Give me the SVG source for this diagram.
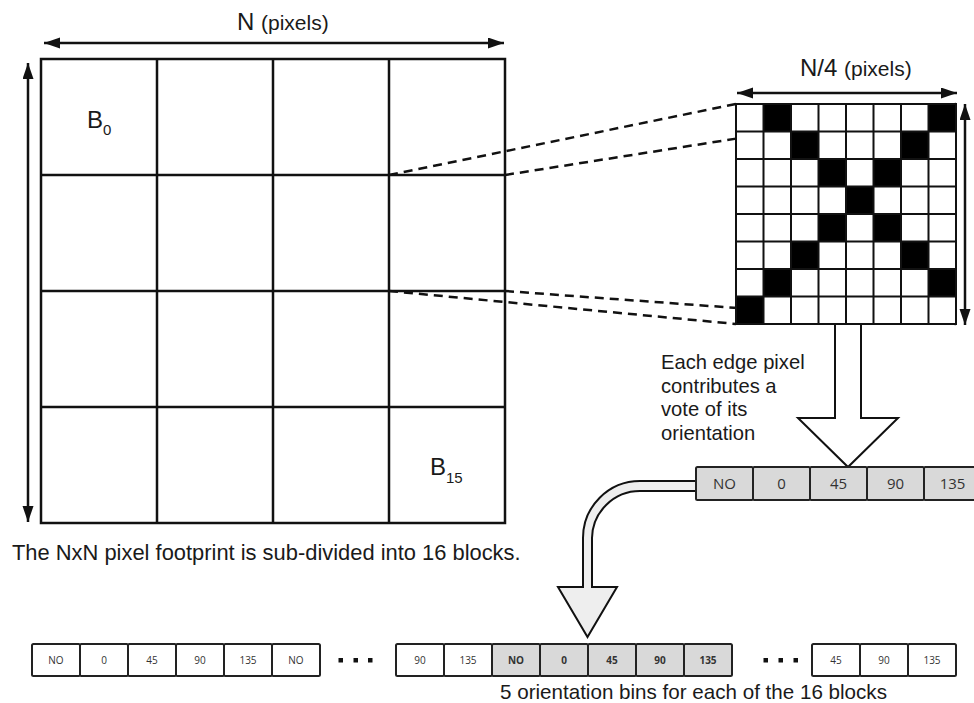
<svg xmlns="http://www.w3.org/2000/svg" width="974" height="703" viewBox="0 0 974 703">
<style>
.lbl{font-family:"Liberation Sans",Arial,sans-serif;fill:#1a1a1a}
.bin{font-family:"Open Sans","Noto Sans",sans-serif;fill:#333;text-anchor:middle}
.grid{fill:none;stroke:#111;stroke-width:2.5}
.dash{fill:none;stroke:#111;stroke-width:2.5;stroke-dasharray:9 6}
.dim{stroke:#111;stroke-width:2.5;fill:none;marker-start:url(#ah);marker-end:url(#ah)}
.box{stroke:#222;stroke-width:2}
.w{fill:#fff}
.g{fill:#d9d9d9}
</style>
<defs>
<marker id="ah" markerUnits="userSpaceOnUse" markerWidth="17" markerHeight="12" refX="16" refY="5.5" orient="auto-start-reverse" viewBox="0 0 17 12">
<path d="M0,0 L16,5.5 L0,11 z" fill="#111"/>
</marker>
</defs>
<rect width="974" height="703" fill="#fff"/>

<g id="connectors">
<line class="dim" x1="44" y1="43" x2="504" y2="43"/>
<line class="dim" x1="28" y1="63" x2="28" y2="522"/>
<line class="dim" x1="737" y1="93" x2="957" y2="93"/>
<line class="dim" x1="965" y1="104" x2="965" y2="325"/>
<line class="dash" x1="389" y1="175" x2="736" y2="104"/>
<line class="dash" x1="505" y1="175" x2="956" y2="104"/>
<line class="dash" x1="389" y1="291" x2="736" y2="324"/>
<line class="dash" x1="505" y1="291" x2="956" y2="324"/>
<path id="vote-arrow" d="M835,324 L835,418 L798,418 L848,467 L898,418 L861,418 L861,324 Z" fill="#fff" stroke="#111" stroke-width="2" stroke-linejoin="miter"/>
<path id="curved-arrow" d="M697,481 L640,481 A57,57 0 0 0 583,538 L583,587 L558,587 L587.5,637 L617,587 L592,587 L592,538 A48,48 0 0 1 640,491 L697,491 Z" fill="#eeeeee" stroke="#111" stroke-width="2" stroke-linejoin="miter"/>
</g>

<g id="labels-dim">
<text class="lbl" x="237" y="30" font-size="24">N <tspan font-size="21">(pixels)</tspan></text>
<text class="lbl" x="800" y="76" font-size="24">N/4 <tspan font-size="21">(pixels)</tspan></text>
</g>

<g id="footprint">
<rect class="grid" x="41" y="59" width="464" height="464" fill="none"/>
<path class="grid" d="M157,59V523 M273,59V523 M389,59V523 M41,175H505 M41,291H505 M41,407H505"/>
<text class="lbl" x="87" y="128" font-size="24">B<tspan font-size="15" dy="7">0</tspan></text>
<text class="lbl" x="430" y="475" font-size="24">B<tspan font-size="15" dy="8">15</tspan></text>
<text class="lbl" x="12" y="560" font-size="21.9">The NxN pixel footprint is sub-divided into 16 blocks.</text>
</g>

<g id="block-pixels">
<rect x="736" y="104" width="220" height="220" fill="#fff"/>
<g fill="#000">
<rect x="763.5" y="104" width="27.5" height="27.5"/>
<rect x="928.5" y="104" width="27.5" height="27.5"/>
<rect x="791" y="131.5" width="27.5" height="27.5"/>
<rect x="901" y="131.5" width="27.5" height="27.5"/>
<rect x="818.5" y="159" width="27.5" height="27.5"/>
<rect x="873.5" y="159" width="27.5" height="27.5"/>
<rect x="846" y="186.5" width="27.5" height="27.5"/>
<rect x="818.5" y="214" width="27.5" height="27.5"/>
<rect x="873.5" y="214" width="27.5" height="27.5"/>
<rect x="791" y="241.5" width="27.5" height="27.5"/>
<rect x="901" y="241.5" width="27.5" height="27.5"/>
<rect x="763.5" y="269" width="27.5" height="27.5"/>
<rect x="928.5" y="269" width="27.5" height="27.5"/>
<rect x="736" y="296.5" width="27.5" height="27.5"/>
</g>
<path d="M736,104H956V324H736Z M763.5,104V324 M791,104V324 M818.5,104V324 M846,104V324 M873.5,104V324 M901,104V324 M928.5,104V324 M736,131.5H956 M736,159H956 M736,186.5H956 M736,214H956 M736,241.5H956 M736,269H956 M736,296.5H956" fill="none" stroke="#111" stroke-width="2"/>
</g>

<g id="vote-text">
<text class="lbl" font-size="20.2" x="661" y="369">Each edge pixel</text>
<text class="lbl" font-size="20.2" x="661" y="392.5">contributes a</text>
<text class="lbl" font-size="20.2" x="661" y="416">vote of its</text>
<text class="lbl" font-size="20.2" x="661" y="439.5">orientation</text>
</g>

<g id="block-histogram">
<rect class="box g" x="696" y="467" width="57" height="33" rx="1.5"/>
<rect class="box g" x="753" y="467" width="57" height="33" rx="1.5"/>
<rect class="box g" x="810" y="467" width="57" height="33" rx="1.5"/>
<rect class="box g" x="867" y="467" width="57" height="33" rx="1.5"/>
<rect class="box g" x="924" y="467" width="57" height="33" rx="1.5"/>
<g font-size="15">
<text class="bin" x="724.5" y="489">NO</text>
<text class="bin" x="781.5" y="489">0</text>
<text class="bin" x="838.5" y="489">45</text>
<text class="bin" x="895.5" y="489">90</text>
<text class="bin" x="952.5" y="489">135</text>
</g>
</g>

<g id="feature-vector">
<g>
<rect class="box w" x="32" y="644" width="48" height="32" rx="1.5"/>
<rect class="box w" x="80" y="644" width="48" height="32" rx="1.5"/>
<rect class="box w" x="128" y="644" width="48" height="32" rx="1.5"/>
<rect class="box w" x="176" y="644" width="48" height="32" rx="1.5"/>
<rect class="box w" x="224" y="644" width="48" height="32" rx="1.5"/>
<rect class="box w" x="272" y="644" width="48" height="32" rx="1.5"/>
<g font-size="10">
<text class="bin" x="56" y="664">NO</text>
<text class="bin" x="104" y="664">0</text>
<text class="bin" x="152" y="664">45</text>
<text class="bin" x="200" y="664">90</text>
<text class="bin" x="248" y="664">135</text>
<text class="bin" x="296" y="664">NO</text>
</g>
</g>
<g fill="#111">
<rect x="338.5" y="658" width="4.5" height="4.5"/>
<rect x="353.5" y="658" width="4.5" height="4.5"/>
<rect x="368" y="658" width="4.5" height="4.5"/>
<rect x="763.5" y="658" width="4.5" height="4.5"/>
<rect x="778.5" y="658" width="4.5" height="4.5"/>
<rect x="793.5" y="658" width="4.5" height="4.5"/>
</g>
<g>
<rect class="box w" x="396" y="644" width="48" height="32" rx="1.5"/>
<rect class="box w" x="444" y="644" width="48" height="32" rx="1.5"/>
<rect class="box g" x="492" y="644" width="48" height="32" rx="1.5"/>
<rect class="box g" x="540" y="644" width="48" height="32" rx="1.5"/>
<rect class="box g" x="588" y="644" width="48" height="32" rx="1.5"/>
<rect class="box g" x="636" y="644" width="48" height="32" rx="1.5"/>
<rect class="box g" x="684" y="644" width="48" height="32" rx="1.5"/>
<g font-size="10">
<text class="bin" x="420" y="664">90</text>
<text class="bin" x="468" y="664">135</text>
<text class="bin" x="516" y="664" font-weight="bold">NO</text>
<text class="bin" x="564" y="664" font-weight="bold">0</text>
<text class="bin" x="612" y="664" font-weight="bold">45</text>
<text class="bin" x="660" y="664" font-weight="bold">90</text>
<text class="bin" x="708" y="664" font-weight="bold">135</text>
</g>
</g>
<g>
<rect class="box w" x="812" y="644" width="48" height="32" rx="1.5"/>
<rect class="box w" x="860" y="644" width="48" height="32" rx="1.5"/>
<rect class="box w" x="908" y="644" width="48" height="32" rx="1.5"/>
<g font-size="10">
<text class="bin" x="836" y="664">45</text>
<text class="bin" x="884" y="664">90</text>
<text class="bin" x="932" y="664">135</text>
</g>
</g>
<text class="lbl" x="500" y="699" font-size="20.6">5 orientation bins for each of the 16 blocks</text>
</g>
</svg>
